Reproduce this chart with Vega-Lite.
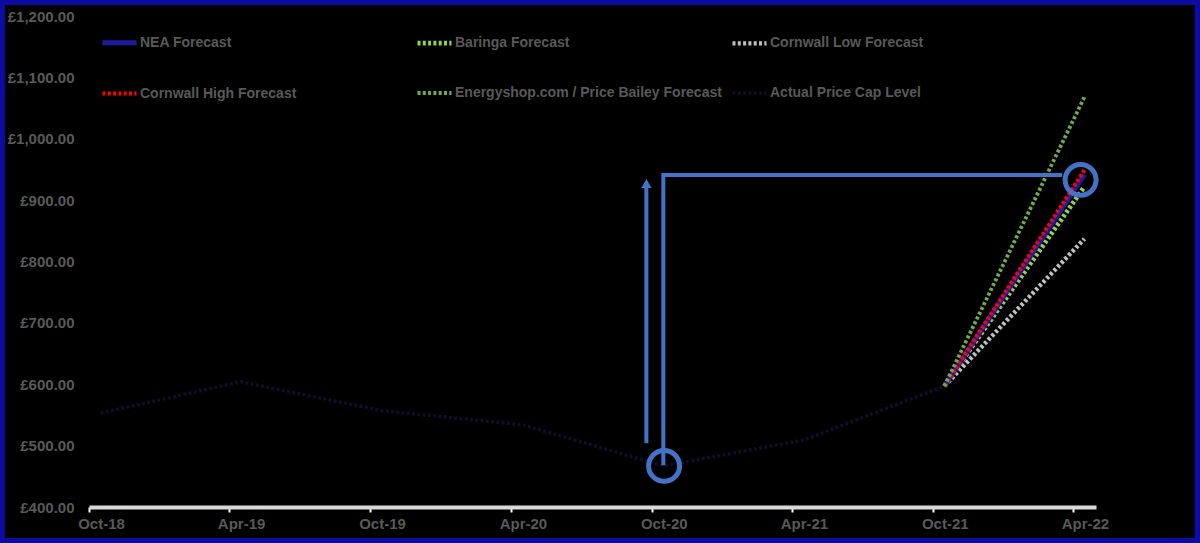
{
  "$schema": "https://vega.github.io/schema/vega-lite/v6.json",
  "width": 1007,
  "height": 491,
  "autosize": {"type": "none"},
  "padding": {"left": 89, "top": 16, "right": 104, "bottom": 36},
  "background": "#000000",
  "config": {
    "view": {"stroke": null},
    "font": "Liberation Sans",
    "axis": {
      "labelColor": "#595959",
      "labelFont": "Liberation Sans",
      "labelFontWeight": "bold",
      "labelFontSize": 15,
      "grid": false,
      "title": null
    },
    "legend": {
      "orient": "none",
      "direction": "horizontal",
      "legendX": 11,
      "legendY": 7,
      "columns": 3,
      "gridAlign": "all",
      "columnPadding": 1,
      "rowPadding": 21,
      "symbolType": "stroke",
      "symbolSize": 1156,
      "labelOffset": 1,
      "labelColor": "#595959",
      "labelFont": "Liberation Sans",
      "labelFontWeight": "bold",
      "labelFontSize": 14,
      "labelLimit": 400,
      "padding": 0,
      "zindex": 1
    }
  },
  "datasets": {
    "series": [
      {"series": "Actual Price Cap Level", "date": "2018-10-16", "value": 553},
      {"series": "Actual Price Cap Level", "date": "2019-04-16", "value": 604},
      {"series": "Actual Price Cap Level", "date": "2019-10-16", "value": 557},
      {"series": "Actual Price Cap Level", "date": "2020-04-16", "value": 534},
      {"series": "Actual Price Cap Level", "date": "2020-10-16", "value": 467},
      {"series": "Actual Price Cap Level", "date": "2021-04-16", "value": 509},
      {"series": "Actual Price Cap Level", "date": "2021-10-16", "value": 597},
      {"series": "Cornwall Low Forecast", "date": "2021-10-16", "value": 597},
      {"series": "Cornwall Low Forecast", "date": "2022-04-16", "value": 837},
      {"series": "Baringa Forecast", "date": "2021-10-16", "value": 597},
      {"series": "Baringa Forecast", "date": "2022-04-16", "value": 922},
      {"series": "NEA Forecast", "date": "2021-10-16", "value": 597},
      {"series": "NEA Forecast", "date": "2022-04-16", "value": 942},
      {"series": "Cornwall High Forecast", "date": "2021-10-16", "value": 597},
      {"series": "Cornwall High Forecast", "date": "2022-04-16", "value": 949},
      {"series": "Energyshop.com / Price Bailey Forecast", "date": "2021-10-16", "value": 597},
      {"series": "Energyshop.com / Price Bailey Forecast", "date": "2022-04-16", "value": 1068}
    ],
    "connector": [
      {"step": 1, "date": "2020-10-16", "value": 468},
      {"step": 2, "date": "2020-10-16", "value": 941},
      {"step": 3, "date": "2022-03-18", "value": 941}
    ],
    "arrow": [
      {"date": "2020-09-24", "value": 504},
      {"date": "2020-09-24", "value": 921}
    ],
    "arrowhead": [
      {"date": "2020-09-24", "value": 927}
    ],
    "circles": [
      {"date": "2020-10-17", "value": 467},
      {"date": "2022-04-11", "value": 933}
    ]
  },
  "layer": [
    {
      "data": {"values": [{}]},
      "mark": {"type": "rect", "fill": "#000000", "fillOpacity": 0, "stroke": "#0C0CA2", "strokeWidth": 12},
      "encoding": {
        "x": {"datum": {"year": 2018, "month": 6, "date": 6, "utc": true}, "type": "temporal"},
        "x2": {"datum": {"year": 2022, "month": 9, "date": 14, "utc": true}},
        "y": {"datum": 1227.7, "type": "quantitative"},
        "y2": {"datum": 339.7}
      }
    },
    {
      "data": {"name": "series"},
      "mark": {"type": "line", "strokeJoin": "round"},
      "encoding": {
        "x": {
          "field": "date",
          "type": "temporal",
          "title": null,
          "scale": {
            "type": "utc",
            "nice": false,
            "domain": [
              {"year": 2018, "month": 10, "date": 1, "utc": true},
              {"year": 2022, "month": 5, "date": 1, "utc": true}
            ]
          },
          "axis": {
            "values": [
              {"year": 2018, "month": 10, "date": 1, "utc": true},
              {"year": 2019, "month": 4, "date": 1, "utc": true},
              {"year": 2019, "month": 10, "date": 1, "utc": true},
              {"year": 2020, "month": 4, "date": 1, "utc": true},
              {"year": 2020, "month": 10, "date": 1, "utc": true},
              {"year": 2021, "month": 4, "date": 1, "utc": true},
              {"year": 2021, "month": 10, "date": 1, "utc": true},
              {"year": 2022, "month": 4, "date": 1, "utc": true}
            ],
            "format": "%b-%y",
            "labelOffset": 12,
            "labelPadding": 4,
            "labelFlush": false,
            "labelOverlap": false,
            "tickSize": 5,
            "tickWidth": 2,
            "tickColor": "#FFFFFF",
            "domainColor": "#D9D9D9",
            "domainWidth": 4
          }
        },
        "y": {
          "field": "value",
          "type": "quantitative",
          "title": null,
          "scale": {"domain": [400, 1200], "nice": false, "zero": false},
          "axis": {
            "values": [400, 500, 600, 700, 800, 900, 1000, 1100, 1200],
            "labelExpr": "'£' + format(datum.value, ',.2f')",
            "domain": false,
            "ticks": false,
            "labelPadding": 15
          }
        },
        "color": {
          "field": "series",
          "type": "nominal",
          "scale": {
            "domain": ["NEA Forecast", "Baringa Forecast", "Cornwall Low Forecast", "Cornwall High Forecast", "Energyshop.com / Price Bailey Forecast", "Actual Price Cap Level"],
            "range": ["#1C1C9C", "#92D050", "#BFBFBF", "#FF0000", "#70AD47", "#0E0E2C"]
          },
          "legend": {"title": null}
        },
        "strokeDash": {
          "field": "series",
          "type": "nominal",
          "scale": {
            "domain": ["NEA Forecast", "Baringa Forecast", "Cornwall Low Forecast", "Cornwall High Forecast", "Energyshop.com / Price Bailey Forecast", "Actual Price Cap Level"],
            "range": [[1, 0], [3, 2.3], [3, 2.3], [3, 2.3], [3, 2.3], [3, 2.3]]
          },
          "legend": {"title": null}
        },
        "strokeWidth": {
          "field": "series",
          "type": "nominal",
          "scale": {
            "domain": ["NEA Forecast", "Baringa Forecast", "Cornwall Low Forecast", "Cornwall High Forecast", "Energyshop.com / Price Bailey Forecast", "Actual Price Cap Level"],
            "range": [5, 3.5, 3.5, 3.5, 3.5, 3]
          },
          "legend": {"title": null}
        }
      }
    },
    {
      "data": {"name": "connector"},
      "mark": {"type": "line", "color": "#4472C4", "strokeWidth": 4},
      "encoding": {
        "x": {"field": "date", "type": "temporal"},
        "y": {"field": "value", "type": "quantitative"},
        "order": {"field": "step"}
      }
    },
    {
      "data": {"name": "arrow"},
      "mark": {"type": "line", "color": "#4472C4", "strokeWidth": 4},
      "encoding": {
        "x": {"field": "date", "type": "temporal"},
        "y": {"field": "value", "type": "quantitative"}
      }
    },
    {
      "data": {"name": "arrowhead"},
      "mark": {"type": "point", "shape": "triangle-up", "filled": true, "color": "#4472C4", "size": 110, "opacity": 1},
      "encoding": {
        "x": {"field": "date", "type": "temporal"},
        "y": {"field": "value", "type": "quantitative"}
      }
    },
    {
      "data": {"name": "circles"},
      "mark": {"type": "point", "shape": "circle", "filled": false, "color": "#4472C4", "size": 960, "strokeWidth": 5, "opacity": 1},
      "encoding": {
        "x": {"field": "date", "type": "temporal"},
        "y": {"field": "value", "type": "quantitative"}
      }
    }
  ]
}
